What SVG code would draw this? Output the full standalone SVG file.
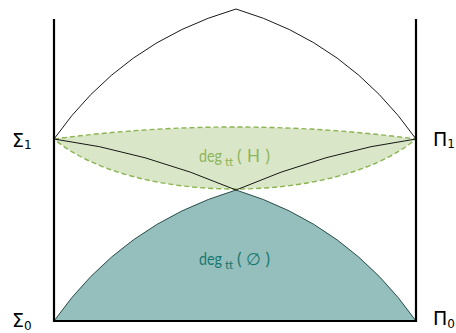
<svg xmlns="http://www.w3.org/2000/svg" width="456" height="333" viewBox="0 0 456 333">
<style>
.thin{fill:none;stroke:#000;stroke-width:0.9}
.thick{fill:none;stroke:#000;stroke-width:2.2}
.lbl{font-family:"DejaVu Sans",sans-serif;font-size:19px;fill:#000}
.sub{font-size:12px}
.deg{font-family:"Lato","Open Sans",sans-serif;font-size:17px}
</style>
<rect width="456" height="333" fill="#fff"/>
<g id="teal-region">
<path d="M54,321 Q122,224 236,190 Q348,224 416,321 Z" fill="#94bfbc" stroke="#1f3f3c" stroke-width="0.9"/>
</g>
<g id="lens-region">
<path d="M54,139 Q235,115 416,139 C336,205.7 134,205.7 54,139 Z" fill="#dae6c8" stroke="#8cb452" stroke-width="1.4" stroke-dasharray="5,3"/>
</g>
<g id="connectors">
<path class="thin" d="M54,139 Q122,42 236,9 Q348,42 416,139"/>
<path class="thin" d="M54,139 Q145,151 236,190 Q326,151 416,139"/>
<path class="thick" d="M54,19 V321 H416 V19"/>
</g>
<g id="label-deg-H">
<text class="deg" fill="#8db55c"><tspan x="199" y="162" textLength="23" lengthAdjust="spacingAndGlyphs">deg</tspan><tspan x="225" y="166" font-size="12" textLength="10.5" lengthAdjust="spacing">tt</tspan><tspan x="237" y="162" textLength="33" lengthAdjust="spacing">(H)</tspan></text>
</g>
<g id="label-deg-empty">
<text class="deg" fill="#19786f"><tspan x="199" y="265" textLength="23" lengthAdjust="spacingAndGlyphs">deg</tspan><tspan x="225" y="269" font-size="12" textLength="10.5" lengthAdjust="spacing">tt</tspan><tspan x="237" y="265" textLength="33" lengthAdjust="spacing">(∅)</tspan></text>
</g>
<g id="sigma1"><text class="lbl" x="12" y="147">Σ<tspan class="sub" dy="2">1</tspan></text></g>
<g id="pi1"><text class="lbl" x="433" y="146">Π<tspan class="sub" dy="2">1</tspan></text></g>
<g id="sigma0"><text class="lbl" x="12" y="327">Σ<tspan class="sub" dy="3">0</tspan></text></g>
<g id="pi0"><text class="lbl" x="433" y="325">Π<tspan class="sub" dy="3">0</tspan></text></g>
</svg>
